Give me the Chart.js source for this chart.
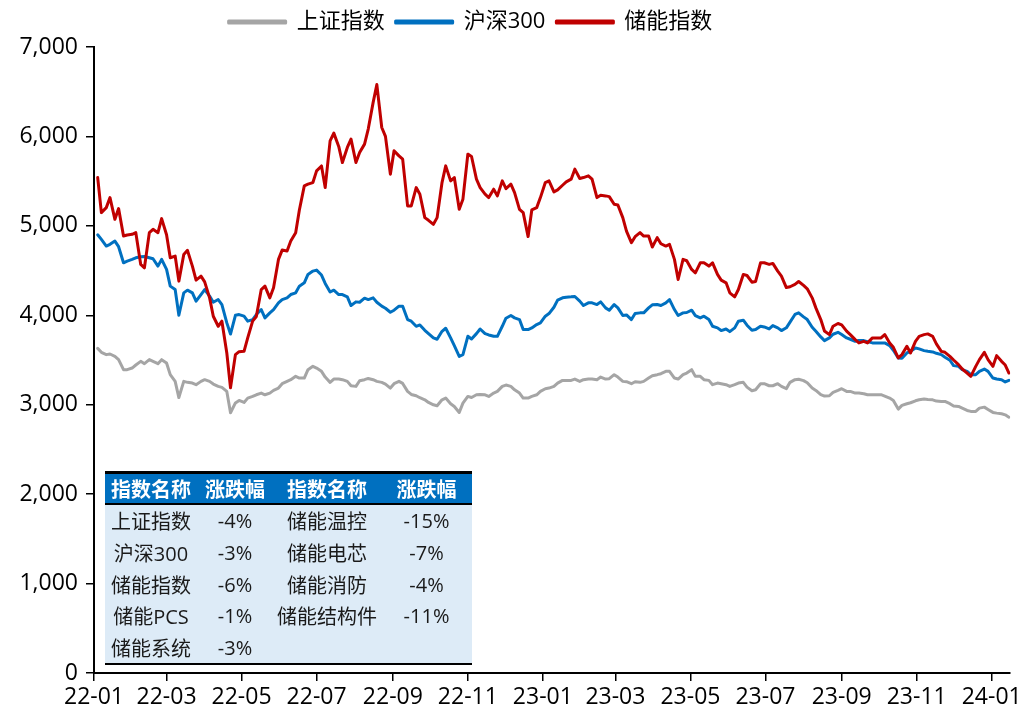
<!DOCTYPE html>
<html lang="zh">
<head>
<meta charset="UTF-8">
<title>储能指数走势</title>
<script src="https://cdn.jsdelivr.net/npm/chart.js@4.4.1/dist/chart.umd.min.js"></script>
<style>
  body { margin: 0; background: #fff; }
  #wrap { position: relative; width: 1025px; height: 715px; }
  #perf {
    position: absolute; left: 105px; top: 471px; width: 367px;
    border-collapse: collapse; table-layout: fixed;
    font-family: "Open Sans", "Noto Sans CJK SC", sans-serif; font-size: 20px; color: #1a1a1a;
    border-top: 3px solid #000; border-bottom: 2px solid #000;
  }
  #perf th { background: #0070c0; color: #fff; font-weight: bold; height: 29px; padding: 0;
             border-bottom: 2px solid #000; text-align: center; }
  #perf td { background: #ddebf7; height: 31.7px; padding: 0; text-align: center; }
</style>
</head>
<body>
<div id="wrap">
  <canvas id="chart" width="1025" height="715"></canvas>
  <table id="perf">
    <colgroup><col style="width:92px"><col style="width:76px"><col style="width:108px"><col style="width:91px"></colgroup>
    <tbody id="perfBody"></tbody>
  </table>
</div>
<script>
const dates = [
  '2022-01-04','2022-01-07','2022-01-11','2022-01-14','2022-01-18','2022-01-21','2022-01-25','2022-01-28',
  '2022-02-01','2022-02-04','2022-02-08','2022-02-11','2022-02-15','2022-02-18','2022-02-22','2022-02-25',
  '2022-03-01','2022-03-04','2022-03-08','2022-03-11','2022-03-15','2022-03-18','2022-03-22','2022-03-25',
  '2022-03-29','2022-04-01','2022-04-05','2022-04-08','2022-04-12','2022-04-15','2022-04-19','2022-04-22',
  '2022-04-26','2022-04-29','2022-05-03','2022-05-06','2022-05-10','2022-05-13','2022-05-17','2022-05-20',
  '2022-05-24','2022-05-27','2022-05-31','2022-06-03','2022-06-07','2022-06-10','2022-06-14','2022-06-17',
  '2022-06-21','2022-06-24','2022-06-28','2022-07-01','2022-07-05','2022-07-08','2022-07-12','2022-07-15',
  '2022-07-19','2022-07-22','2022-07-26','2022-07-29','2022-08-02','2022-08-05','2022-08-09','2022-08-12',
  '2022-08-16','2022-08-19','2022-08-23','2022-08-26','2022-08-30','2022-09-02','2022-09-06','2022-09-09',
  '2022-09-13','2022-09-16','2022-09-20','2022-09-23','2022-09-27','2022-09-30','2022-10-04','2022-10-07',
  '2022-10-11','2022-10-14','2022-10-18','2022-10-21','2022-10-25','2022-10-28','2022-11-01','2022-11-04',
  '2022-11-08','2022-11-11','2022-11-15','2022-11-18','2022-11-22','2022-11-25','2022-11-29','2022-12-02',
  '2022-12-06','2022-12-09','2022-12-13','2022-12-16','2022-12-20','2022-12-23','2022-12-27','2022-12-30',
  '2023-01-03','2023-01-06','2023-01-10','2023-01-13','2023-01-17','2023-01-20','2023-01-24','2023-01-27',
  '2023-01-31','2023-02-03','2023-02-07','2023-02-10','2023-02-14','2023-02-17','2023-02-21','2023-02-24',
  '2023-02-28','2023-03-03','2023-03-07','2023-03-10','2023-03-14','2023-03-17','2023-03-21','2023-03-24',
  '2023-03-28','2023-03-31','2023-04-04','2023-04-07','2023-04-11','2023-04-14','2023-04-18','2023-04-21',
  '2023-04-25','2023-04-28','2023-05-02','2023-05-05','2023-05-09','2023-05-12','2023-05-16','2023-05-19',
  '2023-05-23','2023-05-26','2023-05-30','2023-06-02','2023-06-06','2023-06-09','2023-06-13','2023-06-16',
  '2023-06-20','2023-06-23','2023-06-27','2023-06-30','2023-07-04','2023-07-07','2023-07-11','2023-07-14',
  '2023-07-18','2023-07-21','2023-07-25','2023-07-28','2023-08-01','2023-08-04','2023-08-08','2023-08-11',
  '2023-08-15','2023-08-18','2023-08-22','2023-08-25','2023-08-29','2023-09-01','2023-09-05','2023-09-08',
  '2023-09-12','2023-09-15','2023-09-19','2023-09-22','2023-09-26','2023-09-29','2023-10-03','2023-10-06',
  '2023-10-10','2023-10-13','2023-10-17','2023-10-20','2023-10-24','2023-10-27','2023-10-31','2023-11-03',
  '2023-11-07','2023-11-10','2023-11-14','2023-11-17','2023-11-21','2023-11-24','2023-11-28','2023-12-01',
  '2023-12-05','2023-12-08','2023-12-12','2023-12-15','2023-12-19','2023-12-22','2023-12-26','2023-12-29',
  '2024-01-02','2024-01-05','2024-01-09','2024-01-12','2024-01-15'
];

// 上证指数
const shIndex = [
  3630,3586,3560,3567,3541,3504,3392,3392,
  3410,3444,3485,3459,3504,3485,3459,3504,
  3467,3336,3261,3080,3261,3250,3242,3224,
  3261,3280,3261,3231,3205,3194,3149,2910,
  3020,3048,3025,3074,3093,3111,3130,3111,
  3130,3160,3186,3235,3261,3280,3317,3298,
  3298,3392,3429,3410,3373,3309,3250,3287,
  3287,3280,3261,3212,3205,3268,3280,3294,
  3280,3261,3250,3231,3186,3235,3261,3238,
  3149,3115,3100,3078,3055,3025,2999,2988,
  3055,3074,3010,2980,2913,3018,3093,3081,
  3111,3115,3111,3093,3130,3149,3205,3220,
  3205,3167,3130,3074,3074,3093,3111,3149,
  3179,3186,3205,3242,3272,3272,3272,3287,
  3261,3280,3287,3287,3280,3309,3287,3291,
  3336,3309,3261,3257,3235,3257,3250,3261,
  3298,3324,3336,3347,3373,3373,3298,3287,
  3336,3354,3392,3317,3317,3280,3272,3224,
  3242,3235,3224,3205,3224,3242,3250,3197,
  3156,3167,3235,3235,3212,3212,3235,3205,
  3180,3250,3280,3284,3269,3246,3186,3160,
  3112,3097,3100,3138,3160,3179,3149,3149,
  3130,3130,3123,3112,3112,3112,3112,3097,
  3074,3048,2951,2992,3011,3022,3044,3055,
  3063,3059,3055,3041,3037,3037,3011,2985,
  2981,2962,2936,2925,2925,2962,2973,2947,
  2914,2906,2899,2887,2861
];

// 沪深300
const hs300 = [
  4900,4849,4774,4793,4830,4767,4587,4606,
  4625,4643,4655,4658,4643,4632,4550,4625,
  4513,4326,4288,4000,4251,4281,4251,4158,
  4232,4288,4214,4146,4176,4120,3915,3790,
  4000,4008,3990,3934,3952,4008,4064,3971,
  4027,4064,4139,4176,4195,4232,4251,4326,
  4363,4457,4494,4505,4450,4356,4260,4281,
  4232,4232,4206,4109,4150,4146,4191,4176,
  4195,4146,4102,4079,4034,4057,4102,4102,
  3952,3934,3877,3892,3832,3795,3747,3732,
  3821,3855,3747,3661,3541,3560,3765,3735,
  3795,3847,3795,3780,3765,3765,3877,3967,
  3997,3971,3952,3840,3840,3859,3896,3915,
  3990,4019,4090,4169,4195,4202,4206,4210,
  4158,4109,4139,4139,4120,4150,4083,4057,
  4120,4083,3997,4004,3952,4019,4027,4027,
  4083,4117,4120,4109,4139,4176,4064,3997,
  4027,4031,4057,3997,3971,3990,3952,3877,
  3859,3829,3847,3817,3859,3934,3945,3889,
  3832,3840,3877,3870,3847,3885,3859,3829,
  3860,3923,4009,4027,3982,3952,3866,3822,
  3758,3717,3747,3788,3810,3784,3747,3732,
  3709,3717,3717,3706,3691,3691,3691,3691,
  3661,3609,3523,3519,3579,3597,3635,3624,
  3605,3597,3590,3575,3560,3530,3497,3437,
  3429,3392,3373,3336,3336,3373,3399,3373,
  3298,3287,3280,3254,3272
];

// 储能指数
const storageIndex = [
  5540,5148,5204,5316,5073,5193,4886,4898,
  4905,4924,4569,4531,4924,4961,4924,5081,
  4900,4643,4662,4382,4680,4726,4550,4393,
  4438,4374,4195,3989,3877,3934,3578,3190,
  3560,3593,3597,3747,3934,3986,4288,4326,
  4195,4307,4625,4729,4718,4830,4924,5178,
  5447,5466,5484,5615,5670,5428,5950,6037,
  5888,5708,5877,5970,5708,5821,5914,6082,
  6381,6580,6100,6000,5578,5839,5783,5746,
  5223,5223,5428,5354,5092,5062,5017,5092,
  5484,5671,5503,5540,5185,5298,5802,5776,
  5522,5428,5354,5316,5410,5335,5503,5417,
  5466,5372,5185,5148,4880,5178,5204,5316,
  5484,5503,5380,5402,5454,5492,5522,5634,
  5530,5540,5559,5522,5316,5342,5335,5327,
  5241,5234,5092,4942,4812,4879,4924,4886,
  4886,4763,4868,4800,4774,4793,4625,4400,
  4625,4610,4513,4475,4587,4587,4550,4587,
  4457,4393,4363,4251,4206,4288,4457,4445,
  4370,4378,4587,4587,4569,4580,4494,4438,
  4310,4319,4345,4378,4334,4296,4195,4083,
  3952,3825,3784,3878,3908,3893,3822,3784,
  3728,3691,3709,3691,3747,3747,3747,3784,
  3691,3642,3523,3560,3653,3579,3709,3765,
  3784,3792,3765,3680,3597,3586,3541,3500,
  3448,3399,3354,3317,3429,3504,3586,3504,
  3429,3549,3485,3444,3354
];

const tickLabels = ['22-01','22-03','22-05','22-07','22-09','22-11','23-01','23-03','23-05','23-07','23-09','23-11','24-01'];

const tableNamesA = ['上证指数','沪深300','储能指数','储能PCS','储能系统'];
const tableChangesA = ['-4%','-3%','-6%','-1%','-3%'];
const tableNamesB = ['储能温控','储能电芯','储能消防','储能结构件'];
const tableChangesB = ['-15%','-7%','-4%','-11%'];

const FONT = '"Open Sans", "Noto Sans CJK SC", sans-serif';

function dayNo(s) {
  const [y, m, d] = s.split('-').map(Number);
  return (Date.UTC(y, m - 1, d) - Date.UTC(2022, 0, 1)) / 864e5;
}
const xs = dates.map(dayNo);
const tickDays = tickLabels.map(l => dayNo('20' + l + '-01'));
const xMax = dayNo('2024-01-16');
const toPoints = vals => vals.map((v, i) => ({ x: xs[i], y: v }));

// table
let rows = '<tr><th>指数名称</th><th>涨跌幅</th><th>指数名称</th><th>涨跌幅</th></tr>';
for (let i = 0; i < tableNamesA.length; i++) {
  rows += '<tr><td>' + tableNamesA[i] + '</td><td>' + tableChangesA[i] + '</td><td>' +
          (tableNamesB[i] || '') + '</td><td>' + (tableChangesB[i] || '') + '</td></tr>';
}
document.getElementById('perfBody').innerHTML = rows;

// nudge the legend so it sits where the original one does
const legendShift = {
  id: 'legendShift',
  afterLayout(chart) {
    const lg = chart.legend;
    lg.left -= 35; lg.right -= 35;
    lg.top -= 4; lg.bottom -= 4;
  }
};

const axisGrid = { drawOnChartArea: false, color: '#000', lineWidth: 1.5, tickLength: 8 };

new Chart(document.getElementById('chart'), {
  type: 'line',
  data: {
    datasets: [
      { label: '上证指数', data: toPoints(shIndex), borderColor: '#a5a5a5', backgroundColor: '#a5a5a5', order: 2 },
      { label: '沪深300', data: toPoints(hs300), borderColor: '#0070c0', backgroundColor: '#0070c0', order: 1 },
      { label: '储能指数', data: toPoints(storageIndex), borderColor: '#c00000', backgroundColor: '#c00000', order: 0 }
    ]
  },
  options: {
    responsive: false,
    devicePixelRatio: 1,
    animation: false,
    layout: { padding: { top: 4, right: 14, bottom: 0, left: 0 } },
    elements: {
      point: { radius: 0 },
      line: { borderWidth: 3, tension: 0, borderJoinStyle: 'round', borderCapStyle: 'round' }
    },
    plugins: {
      tooltip: { enabled: false },
      legend: {
        position: 'top',
        labels: {
          boxWidth: 57, boxHeight: 2, padding: 11, color: '#000',
          font: { size: 22, family: FONT },
          sort: (a, b) => a.datasetIndex - b.datasetIndex
        }
      }
    },
    scales: {
      x: {
        type: 'linear', min: 0, max: xMax,
        afterBuildTicks: s => { s.ticks = tickDays.map(v => ({ value: v })); },
        afterFit: s => { s.height = 42; },
        ticks: {
          autoSkip: false, maxRotation: 0, padding: 3, color: '#000',
          font: { size: 23, family: FONT },
          callback: (v, i) => tickLabels[i]
        },
        grid: axisGrid,
        border: { color: '#000', width: 2 }
      },
      y: {
        min: 0, max: 7000,
        afterFit: s => { s.width = 94; },
        ticks: {
          stepSize: 1000, padding: 8, color: '#000',
          font: { size: 23, family: FONT },
          callback: v => v.toLocaleString('en-US')
        },
        grid: axisGrid,
        border: { color: '#000', width: 2 }
      }
    }
  },
  plugins: [legendShift]
});
</script>
</body>
</html>
